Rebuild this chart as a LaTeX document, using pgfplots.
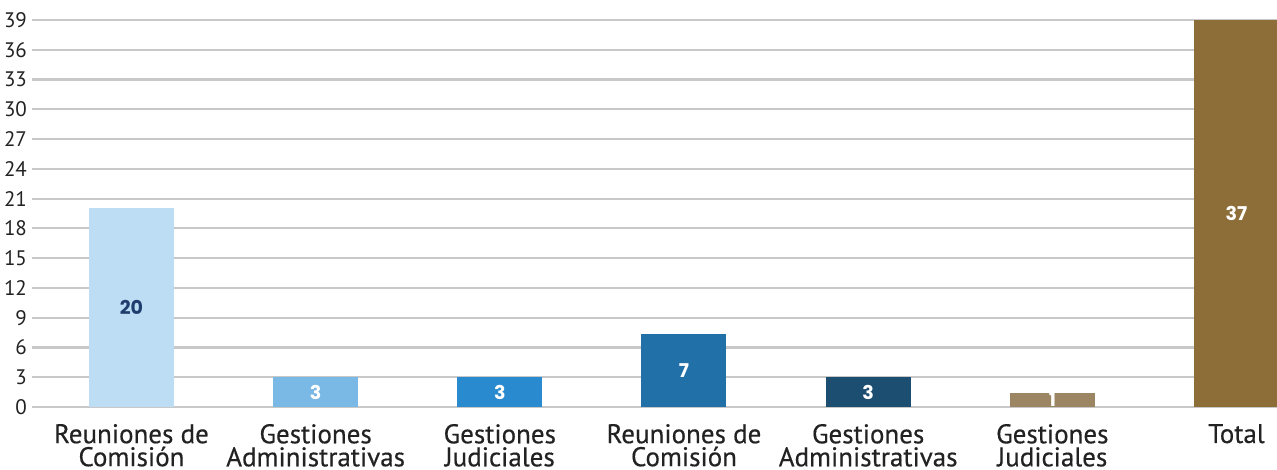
\documentclass[border=0pt]{standalone}
\usepackage{fontspec}
\setmainfont{PT Sans}
\newfontfamily\catfont{PT Sans}[FakeBold=0.4]
\newfontfamily\numfont{Poppins}
\usepackage{pgfplots}
\pgfplotsset{compat=1.18}

\definecolor{gridc}{HTML}{C8C8C8}
\definecolor{tickc}{HTML}{222222}
\definecolor{cA}{HTML}{BDDDF4}
\definecolor{cB}{HTML}{7AB8E6}
\definecolor{cC}{HTML}{2A8ACF}
\definecolor{cD}{HTML}{2270A8}
\definecolor{cE}{HTML}{1C4E72}
\definecolor{cF}{HTML}{9C8562}
\definecolor{cG}{HTML}{8D6E38}
\definecolor{lblA}{HTML}{1F3E6E}

\begin{document}
\begin{tikzpicture}
\begin{axis}[
    scale only axis,
    width=622.5pt, height=193.5pt,
    ybar, bar width=42.5pt, bar shift=0pt,
    xmin=-0.54, xmax=6.22,
    ymin=0, ymax=39,
    ytick={0,3,...,39},
    xtick={0,...,6},
    xticklabels={{Reuniones de\\Comisión},{Gestiones\\Administrativas},{Gestiones\\Judiciales},
                 {Reuniones de\\Comisión},{Gestiones\\Administrativas},{Gestiones\\Judiciales},Total},
    xticklabel style={align=center, font=\catfont\fontsize{13.5}{11.5}\selectfont, text=tickc, yshift=-5pt},
    yticklabel style={font=\fontsize{10.5}{12}\selectfont, text=tickc, xshift=1pt},
    /pgf/number format/assume math mode=true,
    major tick length=0pt,
    axis line style={draw=none},
    ymajorgrids=true,
    grid style={gridc, line width=1.1pt},
    clip=false,
    point meta=explicit symbolic,
    nodes near coords,
    visualization depends on=y \as \rawy,
    every node near coord/.append style={anchor=center, font=\numfont\bfseries\fontsize{9.5}{10}\selectfont,
        text=white, shift={(axis direction cs:0,-\rawy/2)}},
]
\addplot[fill=cA, draw=none, every node near coord/.append style={text=lblA}] coordinates {(0,20.1) [20]};
\addplot[fill=cB, draw=none] coordinates {(1,3) [3]};
\addplot[fill=cC, draw=none] coordinates {(2,3) [3]};
\addplot[fill=cD, draw=none] coordinates {(3,7.35) [7]};
\addplot[fill=cE, draw=none] coordinates {(4,3) [3]};
\addplot[fill=cF, draw=none] coordinates {(5,1.4) [1]};
\addplot[fill=cG, draw=none] coordinates {(6,39) [37]};
\end{axis}
\pgfresetboundingbox
\path (-16pt,-31.5pt) rectangle (622.5pt,203.5pt);
\end{tikzpicture}
\end{document}
